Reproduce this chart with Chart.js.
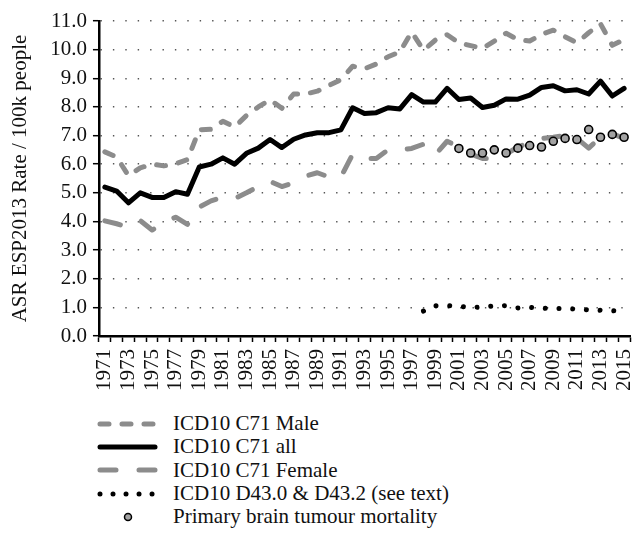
<!DOCTYPE html>
<html lang="en">
<head>
<meta charset="UTF-8">
<title>Brain tumour rates</title>
<script src="https://cdn.jsdelivr.net/npm/chart.js@4.4.0/dist/chart.umd.min.js"></script>
<style>
  body { margin: 0; background: #fff; font-family: "Liberation Serif", serif; }
  #wrap { position: relative; width: 642px; height: 545px; }
  #chartBox { position: absolute; left: 0; top: 0; width: 642px; height: 400px; }
  #legend { position: absolute; left: 97px; top: 412px; font-size: 21px; color: #111; }
  .row { display: flex; align-items: center; height: 23.3px; white-space: nowrap; }
  .row svg { width: 61px; height: 12px; margin-right: 15px; flex: none; }
</style>
</head>
<body>
<div id="wrap">
  <div id="chartBox"><canvas id="chart"></canvas></div>
  <div id="legend">
    <div class="row"><svg><line x1="3" y1="6" x2="58" y2="6" stroke="#8c8c8c" stroke-width="5" stroke-dasharray="9 13" stroke-linecap="round"/></svg>ICD10 C71 Male</div>
    <div class="row"><svg><line x1="3" y1="6" x2="58" y2="6" stroke="#000" stroke-width="5" stroke-linecap="round"/></svg>ICD10 C71 all</div>
    <div class="row"><svg><line x1="3" y1="6" x2="58" y2="6" stroke="#8c8c8c" stroke-width="5" stroke-dasharray="16 23" stroke-linecap="round"/></svg>ICD10 C71 Female</div>
    <div class="row"><svg><line x1="3" y1="6" x2="58" y2="6" stroke="#000" stroke-width="5" stroke-dasharray="0.01 13" stroke-linecap="round"/></svg>ICD10 D43.0 &amp; D43.2 (see text)</div>
    <div class="row"><svg><circle cx="31" cy="6" r="3.5" fill="#a3a3a3" stroke="#000" stroke-width="1.5"/></svg>Primary brain tumour mortality</div>
  </div>
</div>
<script>
// years 1971..2015
const years = ['1971','1972','1973','1974','1975','1976','1977','1978','1979','1980',
  '1981','1982','1983','1984','1985','1986','1987','1988','1989','1990',
  '1991','1992','1993','1994','1995','1996','1997','1998','1999','2000',
  '2001','2002','2003','2004','2005','2006','2007','2008','2009','2010',
  '2011','2012','2013','2014','2015'];

const c71Male = [6.43, 6.25, 5.6, 5.87, 6.0, 5.94, 6.01, 6.16, 7.2, 7.22,
  7.5, 7.3, 7.7, 8.0, 8.25, 7.95, 8.45, 8.45, 8.55, 8.75,
  8.95, 9.42, 9.33, 9.5, 9.75, 9.92, 10.62, 9.98, 10.33, 10.52,
  10.24, 10.14, 10.04, 10.3, 10.57, 10.35, 10.3, 10.53, 10.68, 10.45,
  10.24, 10.59, 10.9, 10.15, 10.35];

const c71All = [5.2, 5.06, 4.65, 5.0, 4.84, 4.84, 5.04, 4.95, 5.9, 6.0,
  6.22, 6.0, 6.38, 6.56, 6.86, 6.58, 6.87, 7.02, 7.1, 7.1,
  7.2, 7.97, 7.77, 7.8, 7.97, 7.93, 8.43, 8.17, 8.17, 8.65,
  8.26, 8.31, 7.98, 8.06, 8.28, 8.27, 8.41, 8.68, 8.74, 8.56,
  8.6, 8.45, 8.9, 8.38, 8.65];

const c71Female = [4.02, 3.92, 3.8, 4.03, 3.7, 3.95, 4.15, 3.9, 4.5, 4.72,
  4.85, 4.8, 5.0, 5.22, 5.4, 5.22, 5.35, 5.58, 5.7, 5.55,
  5.55, 6.35, 6.2, 6.2, 6.5, 6.5, 6.55, 6.7, 6.33, 6.8,
  6.6, 6.35, 6.2, 6.2, 6.35, 6.6, 6.75, 6.9, 6.94, 7.0,
  6.9, 6.56, 6.94, 7.06, 6.9];

// only reported from 1998
const d43 = [null, null, null, null, null, null, null, null, null, null,
  null, null, null, null, null, null, null, null, null, null,
  null, null, null, null, null, null, null, 0.87, 1.06, 1.06,
  1.04, 1.0, 1.01, 1.05, 1.06, 0.98, 1.0, 0.97, 0.96, 0.96,
  0.94, 0.91, 0.9, 0.88, 0.87];

// only reported from 2001
const primaryMort = [null, null, null, null, null, null, null, null, null, null,
  null, null, null, null, null, null, null, null, null, null,
  null, null, null, null, null, null, null, null, null, null,
  6.55, 6.39, 6.39, 6.5, 6.39, 6.56, 6.65, 6.6, 6.8, 6.9,
  6.86, 7.21, 6.94, 7.04, 6.94];

const FONT = '"Liberation Serif", serif';
const grey = '#8c8c8c';

function lineSet(label, data, color, dash, order) {
  return {
    label: label, data: data, borderColor: color, backgroundColor: color,
    borderWidth: 5, borderDash: dash, borderCapStyle: 'round', borderJoinStyle: 'round',
    pointRadius: 0, fill: false, tension: 0, spanGaps: false, order: order
  };
}

const ctx = document.getElementById('chart').getContext('2d');
new Chart(ctx, {
  type: 'line',
  data: {
    labels: years,
    datasets: [
      {
        label: 'Primary brain tumour mortality', data: primaryMort, showLine: false,
        pointRadius: 4, pointBackgroundColor: '#a3a3a3', pointBorderColor: '#000',
        pointBorderWidth: 1.6, order: 0
      },
      lineSet('ICD10 C71 Male', c71Male, grey, [9, 13], 2),
      lineSet('ICD10 C71 all', c71All, '#000', [], 1),
      lineSet('ICD10 C71 Female', c71Female, grey, [16, 23], 3),
      lineSet('ICD10 D43.0 & D43.2 (see text)', d43, '#000', [0.01, 13.7], 1)
    ]
  },
  options: {
    responsive: true,
    maintainAspectRatio: false,
    animation: false,
    layout: { padding: { left: 8, right: 12, top: 21, bottom: 2 } },
    plugins: { legend: { display: false }, tooltip: { enabled: false } },
    scales: {
      x: {
        offset: true,
        // the rotated last label asks for too much room on the right
        afterFit: s => { s.paddingRight = 0; },
        grid: { offset: true, drawOnChartArea: false, drawTicks: true, tickLength: 6, tickColor: '#000', tickWidth: 1.5 },
        border: { color: '#000', width: 2.5 },
        ticks: {
          autoSkip: false, minRotation: 90, maxRotation: 90, padding: 7,
          color: '#111', font: { family: FONT, size: 21 },
          callback: (v, i) => (i % 2 === 0 ? years[i] : '')
        }
      },
      y: {
        min: 0, max: 11,
        ticks: {
          stepSize: 1, autoSkip: false, padding: 6, color: '#111', font: { family: FONT, size: 21 },
          callback: v => Number(v).toFixed(1)
        },
        grid: { color: '#555', lineWidth: 1.4, drawTicks: true, tickLength: 6, tickColor: '#000', tickWidth: 1.5, tickBorderDash: [] },
        border: { color: '#000', width: 2.5, dash: [1.4, 11] },
        title: {
          display: true, text: 'ASR ESP2013 Rate / 100k people',
          color: '#111', font: { family: FONT, size: 21 }, padding: { top: 0, bottom: 11 }
        }
      }
    }
  }
});
</script>
</body>
</html>
